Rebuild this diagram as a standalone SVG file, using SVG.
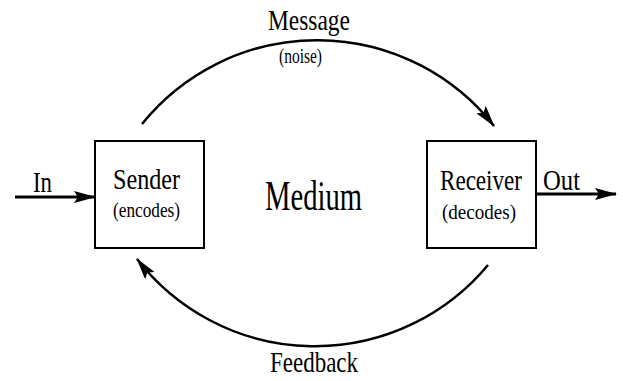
<svg xmlns="http://www.w3.org/2000/svg" width="623" height="381" viewBox="0 0 623 381">
  <style>
    .box { fill: #fff; stroke: #000; stroke-width: 2; }
    .arc { fill: none; stroke: #000; stroke-width: 2.5; }
    .io { fill: none; stroke: #000; stroke-width: 3; }
    text { font-family: "Liberation Serif", "Times New Roman", serif; fill: #000; }
    .big { font-size: 30px; }
    .small { font-size: 20px; }
  </style>
  <defs>
    <marker id="head" viewBox="0 0 22 12" refX="21" refY="6" markerWidth="22" markerHeight="12" markerUnits="userSpaceOnUse" orient="auto">
      <path d="M0,0 L22,6 L0,12 L4,6 Z" fill="#000"/>
    </marker>
  </defs>

  <rect width="623" height="381" fill="#fff"/>

  <!-- connectors -->
  <g id="connectors">
    <path id="message" class="arc" d="M142,124 A225,225 0 0 1 494,126" marker-end="url(#head)"/>
    <path id="feedback" class="arc" d="M488,265 A225,225 0 0 1 137,259" marker-end="url(#head)"/>
    <line id="in" class="io" x1="15" y1="197" x2="95" y2="197" marker-end="url(#head)"/>
    <line id="out" class="io" x1="536" y1="194" x2="616" y2="194" marker-end="url(#head)"/>
  </g>

  <!-- connector labels -->
  <g id="labels">
    <text class="big" x="268" y="30" textLength="82" lengthAdjust="spacingAndGlyphs">Message</text>
    <text class="small" x="279" y="63" textLength="43" lengthAdjust="spacingAndGlyphs">(noise)</text>
    <text class="big" x="270" y="372" textLength="88" lengthAdjust="spacingAndGlyphs">Feedback</text>
    <text class="big" x="33" y="192" textLength="19" lengthAdjust="spacingAndGlyphs">In</text>
    <text class="big" x="543" y="190" textLength="37" lengthAdjust="spacingAndGlyphs">Out</text>
  </g>

  <!-- nodes -->
  <g id="sender">
    <rect class="box" x="95" y="141" width="109" height="107"/>
    <text class="big" x="113" y="189" textLength="67" lengthAdjust="spacingAndGlyphs">Sender</text>
    <text class="small" x="113" y="217" textLength="67" lengthAdjust="spacingAndGlyphs">(encodes)</text>
  </g>

  <g id="medium">
    <text x="265" y="210" font-size="42" textLength="97" lengthAdjust="spacingAndGlyphs">Medium</text>
  </g>

  <g id="receiver">
    <rect class="box" x="427" y="141" width="109" height="107"/>
    <text class="big" x="440" y="190" textLength="82" lengthAdjust="spacingAndGlyphs">Receiver</text>
    <text class="small" x="442" y="219" textLength="74" lengthAdjust="spacingAndGlyphs">(decodes)</text>
  </g>
</svg>
